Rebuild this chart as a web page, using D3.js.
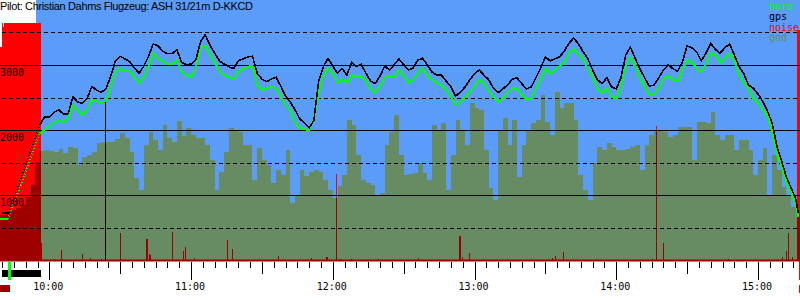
<!DOCTYPE html>
<html><head><meta charset="utf-8">
<script src="https://cdn.jsdelivr.net/npm/d3@7/dist/d3.min.js"></script>
<style>html,body{margin:0;padding:0;background:#fff}svg{display:block}</style>
</head><body>
<svg id="c" width="800" height="300"></svg>
<script>
// ---------------- DATA ----------------
const title = "Pilot: Christian Dahms Flugzeug: ASH 31/21m D-KKCD";
const legendNames = ["baro", "gps", "noise", "gnd"];
const hourLabels = ["10:00", "11:00", "12:00", "13:00", "14:00", "15:00"];
const altLabels = [1000, 2000, 3000];
const altSolid = [1000, 2000, 3000];
const altDashed = [500, 1500, 2500, 3500];

// minutes after 09:00
const viewStartMin = 39.12, viewEndMin = 377.79;
const flightBgStartMin = 54.4;

// before launch (on ground)
const gpsPreMin = [40.0, 42.9];
const gpsPreAlt = [740, 740];
const baroPreMin = [39.1, 42.5];
const baroPreAlt = [640, 640];

// main samples (minutes after 09:00)
const sampleMin = [56,58,60,62,64,66,68,70,72,74,76,78,80,82,84,86,88,90,92,94,96,98,100,102,104,106,108,110,112,114,116,118,120,122,124,126,128,130,132,134,136,138,140,142,144,146,148,150,152,154,156,158,160,162,164,166,168,170,172,174,176,178,180,182,184,186,188,190,192,194,196,198,200,202,204,206,208,210,212,214,216,218,220,222,224,226,228,230,232,234,236,238,240,242,244,246,248,250,252,254,256,258,260,262,264,266,268,270,272,274,276,278,280,282,284,286,288,290,292,294,296,298,300,302,304,306,308,310,312,314,316,318,320,322,324,326,328,330,332,334,336,338,340,342,344,346,348,350,352,354,356,358,360,362,364,366,368,370,372,374,376,377];
const gpsAlt = [2090,2210,2210,2280,2320,2250,2260,2520,2440,2420,2490,2680,2620,2590,2640,2840,3070,3140,3100,3060,2960,2880,2990,3140,3330,3300,3220,3180,3180,3240,3050,3010,3020,3080,3360,3470,3310,3190,3070,3020,2980,2950,3070,3100,3130,3140,2880,2790,2750,2790,2820,2680,2530,2440,2320,2180,2120,2040,2160,2750,2980,3110,2990,2880,2950,2850,3050,2980,3020,2880,2760,2720,2840,2990,2930,3010,3100,3010,2930,2960,3080,3110,3010,2900,2850,2850,2760,2670,2530,2590,2670,2780,2870,2930,2850,2780,2650,2580,2640,2700,2790,2810,2720,2640,2670,2810,2960,3130,3070,3100,3130,3220,3340,3420,3330,3210,3100,2930,2780,2720,2810,2670,2640,2810,3160,3280,3110,2950,2810,2680,2700,2810,2930,3010,2950,2910,3050,3300,3270,3210,3070,3190,3340,3240,3190,3270,3330,3160,2980,2870,2700,2650,2560,2450,2300,2120,1760,1530,1290,1120,950,740];
const baroAlt = [1960,2010,2070,2120,2150,2130,2190,2390,2300,2240,2320,2470,2450,2440,2450,2680,2900,2950,2910,2910,2820,2730,2820,2990,3190,3100,3070,3020,3020,3080,2900,2850,2820,2950,3270,3300,3160,3050,2910,2850,2820,2790,2910,2950,2980,2990,2700,2620,2650,2670,2640,2530,2390,2320,2130,2040,2020,2010,2190,2580,2840,2960,2870,2730,2790,2730,2850,2820,2840,2760,2640,2580,2680,2810,2840,2820,2930,2840,2730,2780,2880,2950,2850,2780,2730,2700,2620,2520,2390,2440,2520,2590,2680,2780,2720,2610,2520,2440,2500,2580,2650,2640,2550,2470,2500,2650,2780,2960,2870,2930,2990,3050,3190,3250,3160,3100,2950,2820,2650,2580,2650,2520,2490,2670,2980,3130,2980,2810,2680,2550,2560,2650,2790,2840,2780,2760,2930,3080,3050,2950,2900,3020,3190,3160,3040,3110,3180,3080,2850,2730,2650,2500,2420,2330,2210,1990,1630,1460,1210,1040,890,670];

// ground elevation (step series)
const gndMin = [39.1,42,44,46,48,50,52,54,56,58,60,62,64,66,68,70,72,74,76,78,80,82,84,86,88,90,92,94,96,98,100,102,104,106,108,110,112,114,116,118,120,122,124,126,128,130,132,134,136,138,140,142,144,146,148,150,152,154,156,158,160,162,164,166,168,170,172,174,176,178,180,182,184,186,188,190,192,194,196,198,200,202,204,206,208,210,212,214,216,218,220,222,224,226,228,230,232,234,236,238,240,242,244,246,248,250,252,254,256,258,260,262,264,266,268,270,272,274,276,278,280,282,284,286,288,290,292,294,296,298,300,302,304,306,308,310,312,314,316,318,320,322,324,326,328,330,332,334,336,338,340,342,344,346,348,350,352,354,356,358,360,362,364,366,368,370,372,374,376];
const gndAlt = [710,770,780,810,860,980,1170,1520,1680,1700,1690,1670,1720,1660,1750,1730,1470,1600,1630,1670,1810,1830,1830,1830,1870,1960,1890,1670,1270,1090,1780,1980,1860,1700,2090,1890,1830,2150,1920,2040,1930,1890,1890,1780,1550,1090,1370,1670,2040,2010,1980,1780,1780,1240,1730,1550,1470,1200,1390,1320,1700,890,1010,1390,1300,1370,1390,1370,1240,1090,970,1150,1320,2160,2090,1630,1240,1200,1170,1010,1040,1780,1980,2240,1630,1320,1330,1350,1500,1350,1240,2090,1990,2120,1090,1630,2160,2010,1780,2420,2350,2320,1700,1120,940,2010,2190,1780,2160,1290,1780,2010,2120,2160,2550,2130,1930,2590,2350,2420,2420,2160,1320,1090,940,1500,1750,1700,1810,1750,1700,1700,1720,1750,1780,1390,1780,1930,2010,2010,1980,1900,1930,2060,2060,2060,1550,2130,2130,2120,2280,1930,1860,1930,1930,1700,1860,1860,1700,1320,1550,1730,1010,1630,1390,1140,1010,830,740];

// noise (engine noise level, 0..1000)
const noiseStart = [39.12,39.97,40.39,40.81,56.48,62.1,64.9,73.8,77.3,82.0,89.9,100.9,102.3,102.7,112.1,116.6,117.4,121.4,135.2,137.5,156.9,170.9,177.2,181.4,183.1,187.7,199.0,216.2,233.3,234.8,237.8,272.9,274.2,277.6,315.0,316.9,319.9,347.4,370.3,371.9,372.8,374.5,376.5];
const noiseEnd   = [39.97,40.39,40.81,56.48,56.9,62.5,65.3,74.2,77.7,82.4,90.3,101.7,102.7,103.1,112.5,117.0,117.8,121.8,135.6,137.9,157.3,171.3,178.0,181.8,183.5,188.1,199.4,216.6,234.1,235.2,238.2,273.3,274.6,278.0,315.4,317.3,320.3,347.8,370.7,372.3,373.2,374.9,377.8];
const noiseLevel = [899,1000,983,1000,76,8,46,29,13,8,118,92,29,25,122,42,59,13,88,50,21,13,17,366,8,8,8,13,105,17,34,13,21,38,8,567,76,8,17,42,118,17,971];

// events
const releaseMin = 83.6, releaseAlt = 2470;
const engineRun = [39.97, 56.48];
const takeoffMin = 43.1;
const startMark = [39.12, 43.35];
const landingMark = [377.55, 377.79];

// ---------------- CHART ----------------
const C = {
  blue: "#5a9cf8", gnd: "#678c64", red: "#ff0000", dark: "#9e0000",
  baro: "#00ff00", gps: "#000000"
};
const T0 = new Date(2024, 0, 1, 9, 0, 0).getTime();
const tm = m => new Date(T0 + m * 60000);
const svg = d3.select("#c");
const W = 800, BASE = 261;
const x = d3.scaleTime().domain([tm(viewStartMin), tm(viewEndMin)]).range([0, W]);
const y = d3.scaleLinear().domain([0, 3500]).range([BASE, 32.8]);
const ny = d3.scaleLinear().domain([0, 1000]).range([BASE, 23]);
const px = m => x(tm(m));

// background
svg.append("rect").attr("x", 0).attr("y", 0).attr("width", W).attr("height", 300).attr("fill", "#fff");
svg.append("rect").attr("x", Math.round(px(flightBgStartMin))).attr("y", 0)
  .attr("width", W - Math.round(px(flightBgStartMin))).attr("height", BASE).attr("fill", C.blue);

// noise bars
const noise = noiseStart.map((s, i) => ({ s, e: noiseEnd[i], v: noiseLevel[i] }));
function drawNoise(g, color) {
  g.selectAll("rect").data(noise).join("rect")
    .attr("x", d => Math.round(px(d.s)))
    .attr("width", d => Math.max(1, Math.round(px(d.e)) - Math.round(px(d.s))))
    .attr("y", d => Math.round(ny(d.v)))
    .attr("height", d => BASE - Math.round(ny(d.v)))
    .attr("fill", color).attr("shape-rendering", "crispEdges");
}
drawNoise(svg.append("g"), C.red);

// ground area
const gnd = gndMin.map((m, i) => ({ m, v: gndAlt[i] }));
const gndExt = gnd.concat([{ m: viewEndMin, v: gnd[gnd.length - 1].v }]);
const gArea = d3.area().curve(d3.curveStepAfter)
  .x(d => px(d.m)).y0(BASE).y1(d => Math.round(y(d.v)));
svg.append("path").attr("d", gArea(gndExt)).attr("fill", C.gnd).attr("shape-rendering", "crispEdges");
svg.append("clipPath").attr("id", "gclip").append("path").attr("d", gArea(gndExt));
drawNoise(svg.append("g").attr("clip-path", "url(#gclip)"), C.dark);

// baseline
svg.append("rect").attr("x", 0).attr("y", 259.5).attr("width", W).attr("height", 2).attr("fill", C.dark);

// grid
altSolid.forEach(v => {
  const yy = Math.floor(y(v)) + 0.5;
  svg.append("line").attr("x1", 0).attr("x2", W).attr("y1", yy).attr("y2", yy)
    .attr("stroke", "#000").attr("stroke-width", 1).attr("shape-rendering", "crispEdges");
});
altDashed.forEach(v => {
  const yy = Math.floor(y(v)) + 0.5;
  svg.append("line").attr("x1", 2).attr("x2", W).attr("y1", yy).attr("y2", yy)
    .attr("stroke", "#000").attr("stroke-width", 1).attr("stroke-dasharray", "4,3")
    .attr("shape-rendering", "crispEdges");
});

// release marker
const rx = Math.round(px(releaseMin)) + 0.5;
svg.append("line").attr("x1", rx).attr("x2", rx).attr("y1", y(releaseAlt)).attr("y2", BASE)
  .attr("stroke", "#000").attr("stroke-width", 1).attr("shape-rendering", "crispEdges");

// lines
const line = d3.line().x(d => px(d.m)).y(d => y(d.v));
function series(preM, preV, vals, color, w) {
  const pre = preM.map((m, i) => ({ m, v: preV[i] }));
  const main = sampleMin.map((m, i) => ({ m, v: vals[i] }));
  svg.append("path").attr("d", line(pre)).attr("fill", "none").attr("stroke", color)
    .attr("stroke-width", w).attr("shape-rendering", "crispEdges");
  svg.append("path").attr("d", line([pre[pre.length - 1], main[0]])).attr("fill", "none")
    .attr("stroke", color).attr("stroke-width", w).attr("stroke-dasharray", "1,2")
    .attr("shape-rendering", "crispEdges");
  svg.append("path").attr("d", line(main)).attr("fill", "none").attr("stroke", color)
    .attr("stroke-width", w).attr("stroke-linejoin", "round").attr("shape-rendering", "crispEdges");
}
series(baroPreMin, baroPreAlt, baroAlt, C.baro, 2);
series(gpsPreMin, gpsPreAlt, gpsAlt, C.gps, 1.6);

// y labels
svg.append("g").selectAll("text").data(altLabels).join("text")
  .attr("x", 0).attr("y", d => Math.floor(y(d)) + 11)
  .attr("font-family", "DejaVu Sans Mono, monospace").attr("font-size", 10)
  .attr("fill", "#000").text(d => d);

// x ticks
x.ticks(d3.timeMinute.every(5)).forEach(t => {
  const mm = t.getMinutes();
  const len = mm === 0 ? 18 : (mm === 30 ? 12 : 6);
  const xx = Math.round(x(t)) + 0.5;
  svg.append("line").attr("x1", xx).attr("x2", xx).attr("y1", 262).attr("y2", 262 + len)
    .attr("stroke", "#000").attr("stroke-width", 1).attr("shape-rendering", "crispEdges");
});
const parseHM = d3.timeParse("%H:%M");
svg.append("g").selectAll("text").data(hourLabels).join("text")
  .attr("x", d => { const p = parseHM(d); return px(p.getHours() * 60 + p.getMinutes() - 540) - 1; })
  .attr("y", 290).attr("text-anchor", "middle")
  .attr("font-family", "DejaVu Sans Mono, monospace").attr("font-size", 10)
  .attr("fill", "#000").text(d => d);

// bottom markers
svg.append("rect").attr("x", Math.round(px(engineRun[0]))).attr("y", 270)
  .attr("width", Math.round(px(engineRun[1])) - Math.round(px(engineRun[0]))).attr("height", 7).attr("fill", "#000");
svg.append("rect").attr("x", Math.round(px(takeoffMin)) - 1).attr("y", 261).attr("width", 3).attr("height", 19).attr("fill", C.baro);
svg.append("rect").attr("x", Math.round(px(startMark[0]))).attr("y", 285)
  .attr("width", Math.round(px(startMark[1])) - Math.round(px(startMark[0]))).attr("height", 7).attr("fill", C.dark);
[[261, 19], [285, 8]].forEach(([yy, h]) => {
  svg.append("rect").attr("x", Math.round(px(landingMark[0]))).attr("y", yy)
    .attr("width", Math.max(2, Math.round(px(landingMark[1])) - Math.round(px(landingMark[0])))).attr("height", h).attr("fill", C.red);
});

// legend
const legColors = [C.baro, C.gps, C.red, C.gnd];
const legY = [10, 20, 31, 41];
svg.append("g").selectAll("text").data(legendNames).join("text")
  .attr("x", 769).attr("y", (d, i) => legY[i])
  .attr("font-family", "DejaVu Sans Mono, monospace").attr("font-size", 10)
  .attr("fill", (d, i) => legColors[i]).text(d => d);

// title
svg.append("text").attr("x", 0).attr("y", 9.5)
  .attr("font-family", "Liberation Sans, Arial, sans-serif").attr("font-size", 11)
  .attr("letter-spacing", "-0.35px").attr("fill", "#000").text(title);
</script>
</body></html>
